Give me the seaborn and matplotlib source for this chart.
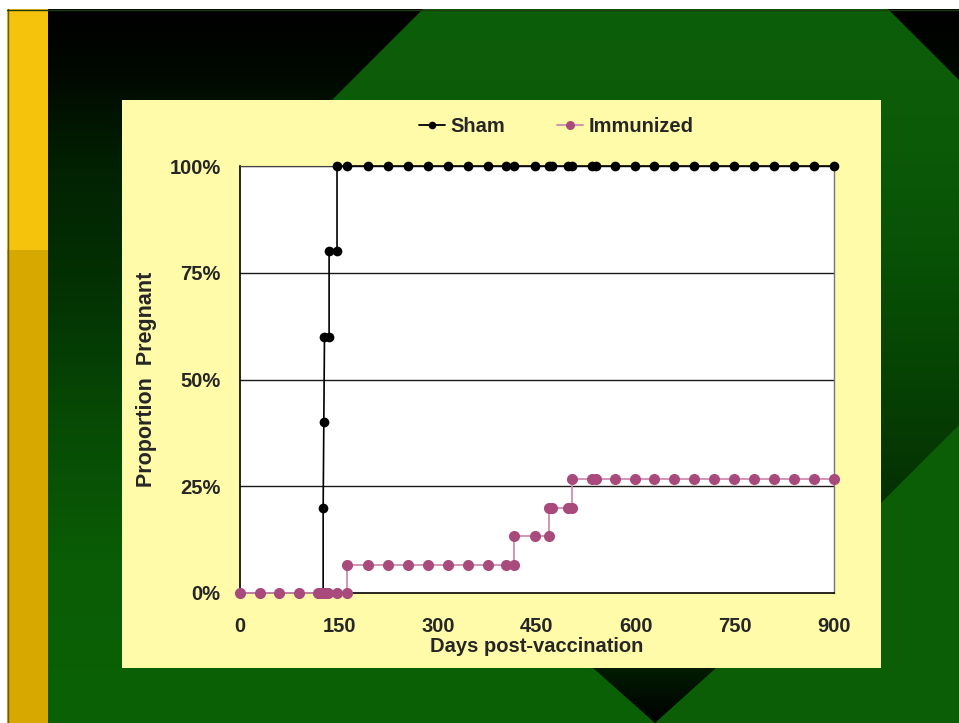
import numpy as np
import pandas as pd
import matplotlib
matplotlib.use("Agg")
import matplotlib.pyplot as plt
import seaborn as sns
from matplotlib.patches import Polygon, Rectangle
from matplotlib.lines import Line2D
from matplotlib.ticker import PercentFormatter
from matplotlib.colors import to_rgb

# ---------------- data ----------------
sham_days = [0, 30, 59, 89, 118, 126, 126, 127, 128, 135, 135, 147, 147, 162,
             194, 224, 255, 285, 315, 345, 376, 403, 415, 447, 468, 473, 497,
             503, 533, 539, 568, 598, 627, 658, 688, 718, 748, 779, 809, 839,
             870, 900]
sham_prop = [0, 0, 0, 0, 0, 0, 0.2, 0.4, 0.6, 0.6, 0.8, 0.8, 1.0, 1.0,
             1.0, 1.0, 1.0, 1.0, 1.0, 1.0, 1.0, 1.0, 1.0, 1.0, 1.0, 1.0, 1.0,
             1.0, 1.0, 1.0, 1.0, 1.0, 1.0, 1.0, 1.0, 1.0, 1.0, 1.0, 1.0, 1.0,
             1.0, 1.0]

imm_days = [0, 30, 59, 89, 118, 121, 124, 127, 130, 133, 147, 162,
            162, 194, 224, 255, 285, 315, 345, 376, 403, 415,
            415, 447, 468,
            468, 473, 497, 503,
            503, 533, 539, 568, 598, 627, 658, 688, 718, 748, 779, 809, 839, 870, 900]
imm_prop = [0.0] * 12 + [1 / 15] * 10 + [2 / 15] * 3 + [3 / 15] * 4 + [4 / 15] * 15

series_names = ["Sham", "Immunized"]
x_ticks = [0, 150, 300, 450, 600, 750, 900]
y_ticks = [0, 0.25, 0.5, 0.75, 1.0]
x_label = "Days post-vaccination"
y_label = "Proportion  Pregnant"

sham_df = pd.DataFrame({"day": sham_days, "prop": sham_prop})
imm_df = pd.DataFrame({"day": imm_days, "prop": imm_prop})

# ---------------- style ----------------
sns.set_style("white")
plt.rcParams["font.family"] = ["Liberation Sans", "DejaVu Sans"]
plt.rcParams["font.weight"] = "bold"

W, H = 959, 723
fig = plt.figure(figsize=(W / 100, H / 100), dpi=100)

# ---------------- background ----------------
bg = fig.add_axes([0, 0, 1, 1])
bg.set_xlim(0, W)
bg.set_ylim(H, 0)
bg.axis("off")


def vgrad(stops):
    ys = np.arange(H)
    pos = [s[0] for s in stops]
    cols = np.array([to_rgb(s[1]) for s in stops])
    arr = np.zeros((H, 1, 3))
    for c in range(3):
        arr[:, 0, c] = np.interp(ys, pos, cols[:, c])
    return arr


base = vgrad([(9, "#000000"), (70, "#010801"), (170, "#022202"), (290, "#033203"),
              (420, "#074a05"), (560, "#0a5c05"), (723, "#0b6205")])
bg.imshow(base, extent=[0, W, H, 0], aspect="auto", zorder=0)

diamond = Polygon([(423, 9), (888, 9), (959, 80), (959, 428), (881, 506),
                   (500, 400), (332, 100)], closed=True, facecolor="none",
                  edgecolor="none", transform=bg.transData)
bg.add_patch(diamond)
dgrad = vgrad([(9, "#0d5e0a"), (150, "#0b5a08"), (250, "#085206"), (350, "#064604"),
               (450, "#053803"), (520, "#032c02"), (723, "#032c02")])
im = bg.imshow(dgrad, extent=[0, W, H, 0], aspect="auto", zorder=1)
im.set_clip_path(diamond)

bg.add_patch(Polygon([(881, 503), (959, 425), (959, 723), (661, 723), (716, 668)],
                     closed=True, facecolor="#0b5e05", edgecolor="none", zorder=2))
tri = Polygon([(593, 668), (716, 668), (655, 723)], closed=True,
              facecolor="none", edgecolor="none", transform=bg.transData)
bg.add_patch(tri)
tgrad = vgrad([(0, "#021c02"), (668, "#021c02"), (723, "#000000")])
im2 = bg.imshow(tgrad, extent=[0, W, H, 0], aspect="auto", zorder=3)
im2.set_clip_path(tri)

# white margins and yellow strip
bg.add_patch(Rectangle((0, 0), W, 9, facecolor="white", edgecolor="none", zorder=4))
bg.add_patch(Rectangle((0, 0), 7, H, facecolor="white", edgecolor="none", zorder=4))
bg.add_patch(Rectangle((7, 9), 41, 241, facecolor="#f5c20c", edgecolor="none", zorder=4))
bg.add_patch(Rectangle((7, 250), 41, H - 250, facecolor="#d6a800", edgecolor="none", zorder=4))
bg.plot([7.5, 7.5], [9, H], color="#6b5a10", lw=1, zorder=5)
bg.plot([7, W], [9.5, 9.5], color="#1d3d10", lw=1, zorder=5)

# chart panel
bg.add_patch(Rectangle((122, 100), 759, 568, facecolor="#fffba8", edgecolor="none", zorder=6))

# ---------------- chart ----------------
ax = fig.add_axes([240 / W, 1 - 593 / H, (834 - 240) / W, (593 - 166) / H])
ax.set_facecolor("white")

sham_color = "#000000"
imm_marker = "#a94a7d"
imm_line = "#cf8cb0"

sns.lineplot(data=sham_df, x="day", y="prop", ax=ax, estimator=None, sort=False,
             color=sham_color, linewidth=1.2, marker="o", markersize=7,
             markeredgewidth=0, clip_on=False, zorder=4)
sns.lineplot(data=imm_df, x="day", y="prop", ax=ax, estimator=None, sort=False,
             color=imm_line, linewidth=1.3, marker="o", markersize=8,
             markerfacecolor=imm_marker, markeredgewidth=0, clip_on=False, zorder=5)

ax.set_xlim(0, 900)
ax.set_ylim(0, 1)
ax.set_xticks(x_ticks)
ax.set_yticks(y_ticks)
ax.yaxis.set_major_formatter(PercentFormatter(1.0, decimals=0))
ax.grid(False)
for yv in y_ticks[1:]:
    ax.axhline(yv, color="#1a1a1a", lw=1.0, zorder=1)

for side in ["left", "bottom"]:
    ax.spines[side].set_color("black")
    ax.spines[side].set_linewidth(1.2)
ax.spines["top"].set_color("#444444")
ax.spines["right"].set_color("#777777")
ax.spines["right"].set_linewidth(1.0)

ax.tick_params(axis="both", which="major", direction="out", length=5, width=1,
               color="black", labelsize=14.5)
ax.tick_params(axis="y", pad=9)
ax.tick_params(axis="x", pad=12)
for lab in ax.get_xticklabels() + ax.get_yticklabels():
    lab.set_fontweight("bold")

ax.set_xlabel(x_label, fontsize=14.5, fontweight="bold", labelpad=1)
ax.set_ylabel(y_label, fontsize=15.5, fontweight="bold", labelpad=9)

handles = [
    Line2D([], [], color=sham_color, lw=1.3, marker="o", markersize=5.5, markeredgewidth=0),
    Line2D([], [], color=imm_line, lw=1.3, marker="o", markersize=6.5,
           markerfacecolor=imm_marker, markeredgewidth=0),
]
leg = fig.legend(handles, series_names, loc="center", bbox_to_anchor=(556 / W, 1 - 127 / H),
                 ncol=2, frameon=False, fontsize=14.5, handlelength=1.3,
                 handletextpad=0.25, columnspacing=2.6)
for t in leg.get_texts():
    t.set_fontweight("bold")

fig.savefig("out.png", dpi=100)
